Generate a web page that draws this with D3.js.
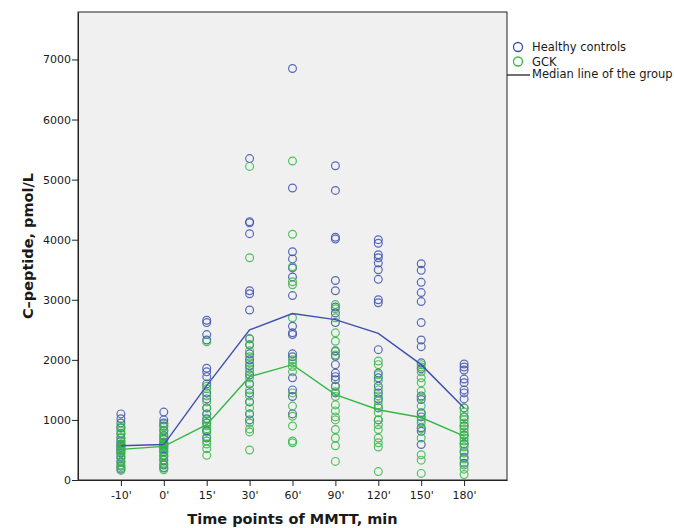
<!DOCTYPE html>
<html>
<head>
<meta charset="utf-8">
<script src="https://cdn.jsdelivr.net/npm/d3@7"></script>
<style>
  body { margin: 0; background: #fff; }
  text { font-family: "DejaVu Sans", sans-serif; fill: #1a1a1a; }
</style>
</head>
<body>
<div id="chart"></div>
<script>
// time points on the x axis
const timePoints = ["-10'", "0'", "15'", "30'", "60'", "90'", "120'", "150'", "180'"];
const yTicks = [0, 1000, 2000, 3000, 4000, 5000, 6000, 7000];

// medians per time point
const healthyMedian = [570, 590, 1570, 2500, 2770, 2670, 2440, 1920, 1200];
const gckMedian = [510, 560, 920, 1720, 1920, 1420, 1170, 1040, 730];

// individual values, one list per time point (same order as timePoints)
const healthyValues = [
  [1100, 1020, 950, 870, 780, 700, 640, 600, 570, 540, 500, 450, 380, 300, 230, 180],
  [1130, 1000, 950, 900, 820, 740, 680, 620, 590, 560, 520, 470, 400, 330, 250, 200],
  [2660, 2620, 2420, 2330, 1860, 1800, 1720, 1600, 1450, 1350, 1200, 1100, 1020, 950, 820, 700],
  [5350, 4300, 4280, 4100, 3150, 3100, 2830, 2350, 2250, 2100, 2000, 1900, 1750, 1600, 1450, 1300, 1100, 1000],
  [6850, 4860, 3800, 3680, 3530, 3380, 3070, 2560, 2450, 2420, 2100, 2050, 1700, 1500, 1390, 1100],
  [5230, 4820, 4040, 4010, 3320, 3150, 2880, 2780, 2620, 2150, 2060, 1920, 1780, 1720, 1670, 1560, 1450],
  [4000, 3940, 3750, 3700, 3610, 3500, 3340, 3000, 2950, 2170, 1780, 1700, 1560, 1450, 1350, 1200, 1000],
  [3600, 3490, 3290, 3120, 2970, 2620, 2330, 2220, 1950, 1850, 1400, 1340, 1120, 1050, 870, 810, 590],
  [1930, 1880, 1830, 1680, 1620, 1500, 1450, 1350, 1200, 1050, 900, 750, 600, 480, 380, 280]
];
const gckValues = [
  [900, 860, 820, 760, 700, 650, 600, 560, 520, 500, 480, 440, 400, 350, 300, 250, 200, 160],
  [930, 880, 830, 780, 720, 680, 620, 580, 560, 540, 500, 460, 420, 380, 330, 270, 210, 170],
  [2300, 1560, 1520, 1400, 1300, 1200, 1100, 1000, 950, 900, 850, 800, 720, 650, 600, 520, 410],
  [5220, 3700, 2350, 2250, 2150, 2050, 1950, 1850, 1800, 1700, 1600, 1500, 1400, 1300, 1200, 1100, 950, 850, 800, 500],
  [5310, 4090, 3550, 3300, 3250, 2700, 2000, 1950, 1890, 1800, 1450, 1230, 1060, 900, 650, 620],
  [2920, 2850, 2700, 2450, 2310, 2140, 2080, 1560, 1470, 1390, 1250, 1150, 1050, 1000, 840, 700, 570, 310],
  [1980, 1920, 1750, 1650, 1500, 1400, 1320, 1250, 1120, 1000, 920, 840, 700, 620, 550, 140],
  [1920, 1880, 1800, 1700, 1620, 1480, 1380, 1230, 1100, 1000, 950, 850, 700, 420, 330, 110],
  [1200, 1130, 1050, 1000, 950, 900, 850, 800, 740, 700, 650, 600, 550, 450, 350, 250, 180, 90]
];

const seriesNames = ["Healthy controls", "GCK"];
const medianLabel = "Median line of the group";

const width = 674, height = 528;
const margin = {top: 12, right: 167, bottom: 48, left: 78};
const blue = "#3d50ae", green = "#35b845";

const svg = d3.select("#chart").append("svg")
  .attr("width", width)
  .attr("height", height);

const x = d3.scalePoint()
  .domain(timePoints)
  .range([margin.left, width - margin.right])
  .padding(1);

const y = d3.scaleLinear()
  .domain([0, 7790])
  .range([height - margin.bottom, margin.top]);

// plot background + frame
svg.append("rect")
  .attr("x", margin.left)
  .attr("y", margin.top)
  .attr("width", width - margin.right - margin.left)
  .attr("height", height - margin.bottom - margin.top)
  .attr("fill", "#f0f0f0")
  .attr("stroke", "#222")
  .attr("stroke-width", 1);

// axes
const xAxis = svg.append("g")
  .attr("transform", `translate(0,${height - margin.bottom})`)
  .call(d3.axisBottom(x).tickSize(6).tickSizeOuter(0));
xAxis.select(".domain").attr("stroke", "#222");
xAxis.selectAll(".tick line").attr("stroke", "#222");
xAxis.selectAll(".tick text").attr("font-size", 11).attr("dy", "0.9em").attr("font-family", "DejaVu Sans");

const yAxis = svg.append("g")
  .attr("transform", `translate(${margin.left},0)`)
  .call(d3.axisLeft(y).tickValues(yTicks).tickFormat(d3.format("d")).tickSize(6).tickSizeOuter(0));
yAxis.select(".domain").attr("stroke", "#222");
yAxis.selectAll(".tick line").attr("stroke", "#222");
yAxis.selectAll(".tick text").attr("font-size", 11).attr("x", -7).attr("font-family", "DejaVu Sans");

// axis titles
svg.append("text")
  .attr("x", (margin.left + width - margin.right) / 2)
  .attr("y", 524)
  .attr("text-anchor", "middle")
  .attr("font-size", 14.5)
  .attr("font-weight", "bold")
  .text("Time points of MMTT, min");

svg.append("text")
  .attr("transform", `translate(33,${(margin.top + height - margin.bottom) / 2}) rotate(-90)`)
  .attr("text-anchor", "middle")
  .attr("font-size", 14.5)
  .attr("font-weight", "bold")
  .text("C\u2013peptide, pmol/L");

// points
function flatten(values) {
  const out = [];
  values.forEach((col, i) => col.forEach(v => out.push({t: timePoints[i], v: v})));
  return out;
}

const line = d3.line()
  .x((d, i) => x(timePoints[i]))
  .y(d => y(d));

[[healthyValues, blue], [gckValues, green]].forEach(([vals, col]) => {
  svg.append("g")
    .selectAll("circle")
    .data(flatten(vals))
    .join("circle")
      .attr("cx", d => x(d.t))
      .attr("cy", d => y(d.v))
      .attr("r", 3.9)
      .attr("fill", "none")
      .attr("stroke", col)
      .attr("stroke-width", 1.2)
      .attr("stroke-opacity", 0.85);
});

[[healthyMedian, blue], [gckMedian, green]].forEach(([med, col]) => {
  svg.append("path")
    .attr("d", line(med))
    .attr("fill", "none")
    .attr("stroke", col)
    .attr("stroke-width", 1.4);
});

// legend
const legend = svg.append("g");
[blue, green].forEach((col, i) => {
  legend.append("circle")
    .attr("cx", 518).attr("cy", 47 + i * 14.5)
    .attr("r", 4.5)
    .attr("fill", "none")
    .attr("stroke", col)
    .attr("stroke-width", 1.3);
  legend.append("text")
    .attr("x", 532).attr("y", 47 + i * 14.5)
    .attr("dy", "0.35em")
    .attr("font-size", 11.5)
    .text(seriesNames[i]);
});
legend.append("line")
  .attr("x1", width - margin.right).attr("x2", 530)
  .attr("y1", 75).attr("y2", 75)
  .attr("stroke", "#222")
  .attr("stroke-width", 1.3);
legend.append("text")
  .attr("x", 532).attr("y", 74)
  .attr("dy", "0.35em")
  .attr("font-size", 11.5)
  .text(medianLabel);
</script>
</body>
</html>
